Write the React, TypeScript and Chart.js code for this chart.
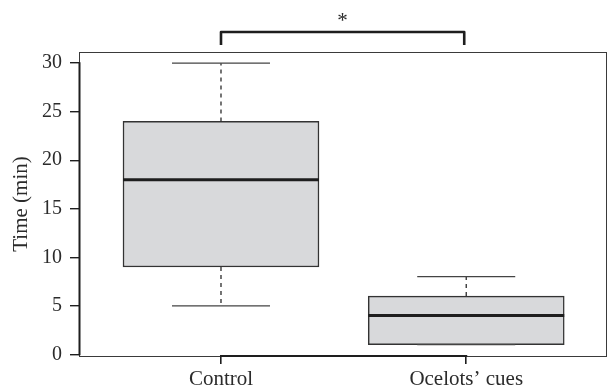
import React, { useEffect, useRef } from "react";
import { Chart, registerables } from "chart.js";

Chart.register(...registerables);

const categories = ["Control", "Ocelots\u2019 cues"];
const whiskerLow = [5, 1];
const q1 = [9, 1];
const median = [18, 4];
const q3 = [24, 6];
const whiskerHigh = [30, 8];
const yTicks = [0, 5, 10, 15, 20, 25, 30];
const yTitle = "Time (min)";
const sigLabel = "*";

const FONT = "'Liberation Serif', 'Times New Roman', serif";
const INK = "#2b2b2b";

const boxPlugin = {
  id: "boxExtras",
  afterDatasetsDraw(chart: any) {
    const ctx = chart.ctx;
    const xs = chart.scales.x;
    const ys = chart.scales.y;
    const boxW = 196;
    const capHalf = boxW / 4;
    ctx.save();
    categories.forEach((_, i) => {
      const cx = xs.getPixelForValue(i + 1);
      // dashed whiskers
      ctx.strokeStyle = INK;
      ctx.lineWidth = 1.3;
      ctx.setLineDash([4, 4]);
      ctx.beginPath();
      ctx.moveTo(cx, ys.getPixelForValue(q3[i]));
      ctx.lineTo(cx, ys.getPixelForValue(whiskerHigh[i]));
      ctx.moveTo(cx, ys.getPixelForValue(q1[i]));
      ctx.lineTo(cx, ys.getPixelForValue(whiskerLow[i]));
      ctx.stroke();
      ctx.setLineDash([]);
      // caps
      ctx.strokeStyle = "#444";
      ctx.lineWidth = 1.3;
      ctx.beginPath();
      const yh = ys.getPixelForValue(whiskerHigh[i]);
      const yl = ys.getPixelForValue(whiskerLow[i]);
      ctx.moveTo(cx - capHalf, yh);
      ctx.lineTo(cx + capHalf, yh);
      ctx.moveTo(cx - capHalf, yl);
      ctx.lineTo(cx + capHalf, yl);
      ctx.stroke();
      // median
      ctx.strokeStyle = "#1e1e1e";
      ctx.lineWidth = 3;
      const ym = ys.getPixelForValue(median[i]);
      ctx.beginPath();
      ctx.moveTo(cx - boxW / 2, ym);
      ctx.lineTo(cx + boxW / 2, ym);
      ctx.stroke();
    });
    ctx.restore();
  },
  afterDraw(chart: any) {
    const ctx = chart.ctx;
    const xs = chart.scales.x;
    const ys = chart.scales.y;
    const { left, right, top, bottom } = chart.chartArea;
    ctx.save();
    // frame
    ctx.strokeStyle = "#3a3a3a";
    ctx.lineWidth = 1;
    ctx.strokeRect(left + 0.5, top + 0.5, right - left - 1, bottom - top);
    // axis lines
    ctx.strokeStyle = "#1e1e1e";
    ctx.lineWidth = 2;
    ctx.beginPath();
    ctx.moveTo(left + 0.5, ys.getPixelForValue(yTicks[0]) + 1);
    ctx.lineTo(left + 0.5, ys.getPixelForValue(yTicks[yTicks.length - 1]) - 1);
    ctx.moveTo(xs.getPixelForValue(1) - 1, bottom);
    ctx.lineTo(xs.getPixelForValue(categories.length) + 1, bottom);
    ctx.stroke();
    // significance bracket
    const x1 = xs.getPixelForValue(1);
    const x2 = xs.getPixelForValue(2) - 2;
    const yb = 32;
    ctx.lineWidth = 2.6;
    ctx.lineJoin = "round";
    ctx.strokeStyle = "#1e1e1e";
    ctx.beginPath();
    ctx.moveTo(x1, 45);
    ctx.lineTo(x1, yb);
    ctx.lineTo(x2, yb);
    ctx.lineTo(x2, 45);
    ctx.stroke();
    ctx.fillStyle = INK;
    ctx.font = `21px ${FONT}`;
    ctx.textAlign = "center";
    ctx.textBaseline = "middle";
    ctx.fillText(sigLabel, (x1 + x2) / 2, 21);
    ctx.restore();
  },
};

export default function App() {
  const ref = useRef<HTMLCanvasElement>(null);
  useEffect(() => {
    if (!ref.current) return;
    const chart = new Chart(ref.current, {
      type: "bar",
      data: {
        datasets: [
          {
            data: categories.map((_, i) => ({ x: i + 1, y: [q1[i], q3[i]] })) as any,
            backgroundColor: "rgb(216,217,219)",
            borderColor: "#333",
            borderWidth: 1.5,
            borderSkipped: false,
            barThickness: 196,
          },
        ],
      },
      options: {
        animation: false,
        responsive: false,
        maintainAspectRatio: false,
        layout: { padding: { top: 52, right: 1, left: 0, bottom: 0 } },
        plugins: { legend: { display: false }, tooltip: { enabled: false } },
        scales: {
          x: {
            type: "linear",
            offset: false,
            min: 0.421,
            max: 2.574,
            afterBuildTicks: (s: any) => {
              s.ticks = categories.map((_, i) => ({ value: i + 1 }));
            },
            afterFit: (s: any) => {
              s.height = 36;
            },
            grid: {
              display: true,
              offset: false,
              drawOnChartArea: false,
              drawTicks: true,
              tickLength: 8,
              color: "#1e1e1e",
              lineWidth: 1.6,
            },
            border: { display: false },
            ticks: {
              autoSkip: false,
              maxRotation: 0,
              padding: 3,
              color: INK,
              font: { family: FONT, size: 21 },
              callback: (v: any) => categories[Number(v) - 1] ?? "",
            },
          },
          y: {
            type: "linear",
            min: -0.17,
            max: 31.15,
            afterBuildTicks: (s: any) => {
              s.ticks = yTicks.map((v) => ({ value: v }));
            },
            afterFit: (s: any) => {
              s.width = 79;
            },
            grid: {
              display: true,
              drawOnChartArea: false,
              drawTicks: true,
              tickLength: 9,
              color: "#1e1e1e",
              lineWidth: 1.4,
            },
            border: { display: false },
            title: {
              display: true,
              text: yTitle,
              color: INK,
              font: { family: FONT, size: 21 },
              padding: { top: 9, bottom: 0 },
            },
            ticks: {
              padding: 8,
              color: INK,
              font: { family: FONT, size: 20 },
            },
          },
        },
      },
      plugins: [boxPlugin],
    });
    return () => chart.destroy();
  }, []);
  return (
    <div style={{ position: "fixed", left: 0, top: 0, width: 608, height: 392, background: "#fff" }}>
      <canvas ref={ref} width={608} height={392} style={{ width: 608, height: 392 }} />
    </div>
  );
}
